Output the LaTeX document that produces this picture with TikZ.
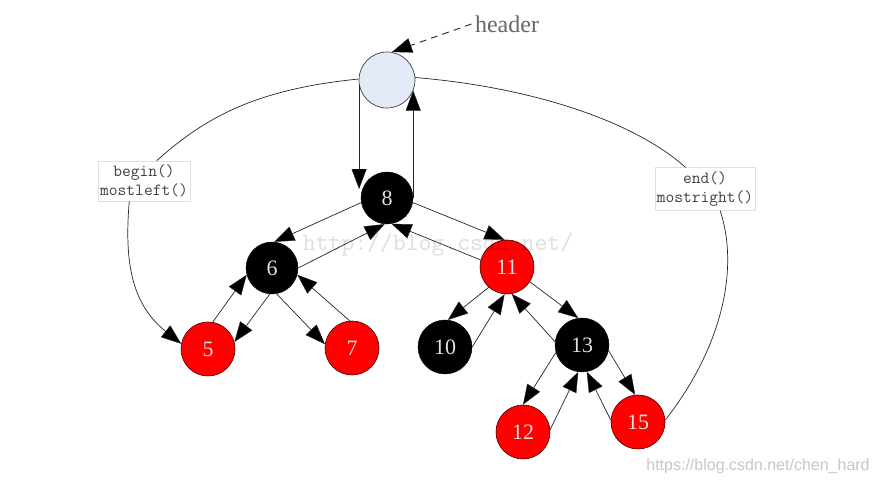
\documentclass[tikz,border=0pt]{standalone}
\usepackage{fontspec}
\setmainfont{Liberation Serif}
\newfontfamily\wmsans{Liberation Sans}
\usetikzlibrary{arrows.meta}
\definecolor{hdrfill}{RGB}{225,234,246}
\definecolor{numtxt}{RGB}{225,225,225}
\definecolor{rbred}{RGB}{255,0,0}
\begin{document}
\begin{tikzpicture}[x=1pt,y=1pt,
  arr/.style={-{Triangle[length=20pt,width=15pt,fill=black,line width=0.4pt]}, line width=0.7pt, draw=black!85},
  plain/.style={line width=0.7pt, draw=black!85},
  blknode/.style={circle, fill=black, draw=black, minimum size=52pt, inner sep=0pt, text=numtxt, font=\fontsize{22}{22}\selectfont},
  rednode/.style={circle, fill=rbred, draw=black!70!red, line width=0.6pt, minimum size=54pt, inner sep=0pt, text=numtxt, font=\fontsize{22}{22}\selectfont},
  hdrnode/.style={circle, fill=hdrfill, draw=black!75, line width=0.7pt, minimum size=56pt, inner sep=0pt},
  lbl/.style={draw=black!12, fill=white, font=\ttfamily\fontsize{17}{19}\selectfont, align=center, inner xsep=2pt, inner ysep=4pt, text=black!75}
]
\useasboundingbox (0,0) rectangle (877,484);
\fill[white] (0,0) rectangle (877,484);

% nodes
\node[hdrnode] (hdr) at (387,404) {};
\node[blknode] (n8) at (387,286) {8};
\node[blknode] (n6) at (272,216) {6};
\node[rednode] (n11) at (507,217) {11};
\node[rednode] (n5) at (208,135) {5};
\node[rednode] (n7) at (352,136) {7};
\node[blknode, minimum size=54pt] (n10) at (445,137) {10};
\node[blknode, minimum size=54pt] (n13) at (582,139) {13};
\node[rednode] (n12) at (523,52) {12};
\node[rednode] (n15) at (638,62) {15};

\node[font=\fontsize{24}{24}\selectfont, text=black!60] (hlbl) at (507,460) {header};

% header links
\draw[arr, dash pattern=on 7pt off 5pt, line width=0.9pt] (hlbl.west) -- (hdr.80);
\draw[arr] (hdr.190) -- (hdr.190 |- n8.160);
\draw[arr] (n8.east) -- (n8.east |- hdr.-22);

% tree links
\draw[arr] (n8.190) -- (n6.85);
\draw[arr] (n6.0) -- (n8.265);
\draw[arr] (n8.-10) -- (n11.95);
\draw[arr] (n11.165) -- (n8.280);

\draw[arr] (n6.265) -- (n5.15);
\draw[arr] (n5.80) -- (n6.195);
\draw[arr] (n6.280) -- (n7.172);
\draw[arr] (n7.95) -- (n6.-15);

\draw[arr] (n11.228) -- (n10.84);
\draw[arr] (n10.0) -- (n11.265);
\draw[arr] (n11.-33) -- (n13.98);
\draw[arr] (n13.173) -- (n11.280);

\draw[arr] (n13.196) -- (n12.90);
\draw[arr] (n12.5) -- (n13.262);
\draw[arr] (n13.-12) -- (n15.96);
\draw[arr] (n15.176) -- (n13.280);

% labels
\node[lbl] (lblL) at (144,303) {begin()\\mostleft()};
\node[lbl] (lblR) at (705,295) {end()\\mostright()};

% outer curves
\draw[plain] (hdr.178) .. controls +(-100,-10) and +(50,45) .. (lblL.58);
\draw[arr] (lblL.234) .. controls +(-5,-60) and +(-50,40) .. (n5.169);
\draw[plain] (hdr.5) .. controls +(120,-10) and +(-50,45) .. (lblR.132);
\draw[plain] (lblR.-55) .. controls +(20,-60) and +(55,70) .. (n15.4);

% watermarks
\node[font=\ttfamily\fontsize{25}{25}\selectfont, text=black, text opacity=0.13] (wm1) at (438,239) {http://blog.csdn.net/};
\node[font=\wmsans\fontsize{16}{16}\selectfont, text=black!22] (wm2) at (758,18) {https://blog.csdn.net/chen\_hard};
\end{tikzpicture}
\end{document}
